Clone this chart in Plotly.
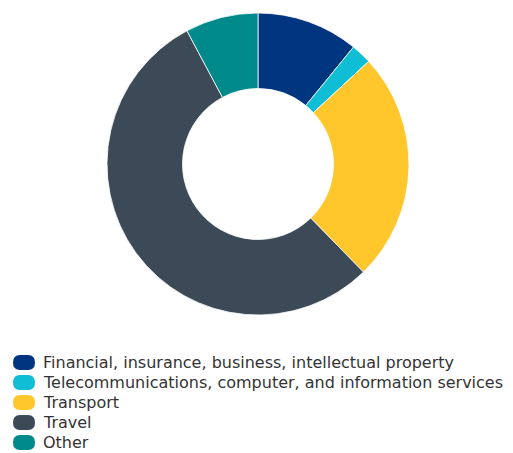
import plotly.graph_objects as go

categories = [
    "Financial, insurance, business, intellectual property",
    "Telecommunications, computer, and information services",
    "Transport",
    "Travel",
    "Other",
]
values = [10.9, 2.2, 24.6, 54.5, 7.8]
colors = ["#00357f", "#0fbdd4", "#ffc72c", "#3b4a56", "#00898a"]

W, H = 505, 445
L, R, T, B = 0, 5, 5, 138
plot_w, plot_h = W - L - R, H - T - B

fig = go.Figure()
fig.add_trace(go.Pie(
    labels=categories, values=values, hole=0.5, sort=False,
    direction="clockwise", rotation=0,
    domain=dict(x=[0, 1], y=[0, 1]),
    marker=dict(colors=colors, line=dict(color="white", width=0.8)),
    textinfo="none", hoverinfo="label+percent", showlegend=False,
))

# custom legend (swatch + label) below the donut
row0, row_gap = 354.5, 20.0
swatch_cx, text_x = 16, 33
stadium = ("M -4,-7.5 L 4,-7.5 Q 11,-7.5 11,0 Q 11,7.5 4,7.5 "
           "L -4,7.5 Q -11,7.5 -11,0 Q -11,-7.5 -4,-7.5 Z")
annotations, shapes = [], []
for i, (c, col) in enumerate(zip(categories, colors)):
    fy = row0 + i * row_gap
    py = (T + plot_h - fy) / plot_h
    shapes.append(dict(
        type="path", xref="paper", yref="paper",
        xsizemode="pixel", ysizemode="pixel",
        xanchor=(swatch_cx - L) / plot_w, yanchor=py,
        path=stadium, fillcolor=col, line=dict(width=0),
    ))
    annotations.append(dict(
        text=c, xref="paper", yref="paper",
        x=(text_x - L) / plot_w, y=py, xanchor="left", yanchor="middle",
        showarrow=False, font=dict(size=16, color="#333333"),
    ))

fig.update_layout(
    width=W, height=H,
    margin=dict(l=L, r=R, t=T, b=B, autoexpand=False),
    paper_bgcolor="white", plot_bgcolor="white",
    showlegend=False,
    font=dict(family="DejaVu Sans, Verdana, sans-serif", size=16, color="#333333"),
    annotations=annotations, shapes=shapes,
)
fig.write_html("out.html")
